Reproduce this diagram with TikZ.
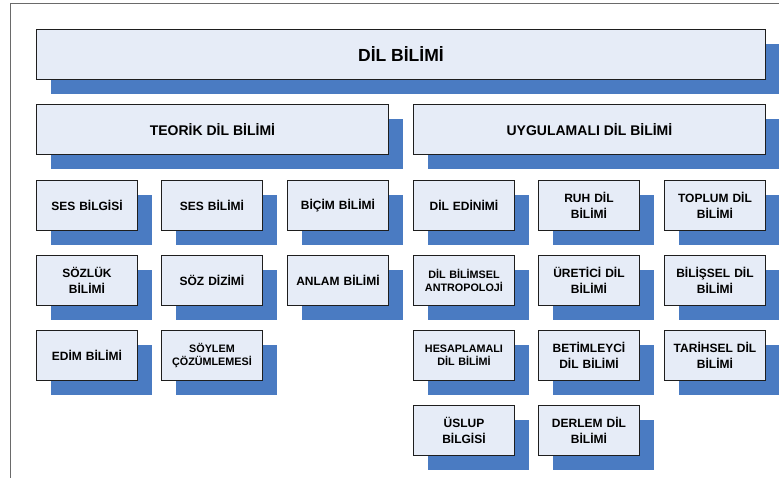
\documentclass[tikz,border=0pt]{standalone}
\usepackage{fontspec}
\setmainfont{Liberation Sans}
\usetikzlibrary{shadows}

\definecolor{cardfill}{HTML}{E6ECF7}
\definecolor{cardedge}{HTML}{1E1E1E}
\definecolor{shadowblue}{HTML}{4A7BC2}
\definecolor{framegray}{HTML}{6A6A6A}

\tikzset{
  card/.style={
    draw=cardedge, line width=0.9pt, fill=cardfill,
    anchor=north west, inner sep=2pt, align=center,
    drop shadow={shadow xshift=15pt, shadow yshift=-15pt,
                 fill=shadowblue, opacity=1}
  },
  titlecard/.style={card, minimum width=729pt, minimum height=50pt,
    font=\bfseries\fontsize{17.5}{20}\selectfont},
  branchcard/.style={card, minimum width=352pt, minimum height=50pt,
    font=\bfseries\fontsize{14}{17}\selectfont},
  leafcard/.style={card, minimum width=101pt, minimum height=50pt,
    text width=97pt, font=\bfseries\fontsize{12}{15.5}\selectfont},
  smallleaf/.style={leafcard, font=\bfseries\fontsize{10.8}{12.8}\selectfont},
  frameline/.style={draw=framegray, line width=1pt}
}

\begin{document}
\begin{tikzpicture}[x=1pt, y=-1pt]
  \useasboundingbox (0,0) rectangle (779,478);

  % page frame
  \coordinate (frameBL) at (10.5,478);
  \coordinate (frameTL) at (10.5,4);
  \coordinate (frameTR) at (779,4);
  \draw[frameline] (frameBL) -- (frameTL) -- (frameTR);

  % root
  \node[titlecard] (root) at (36,29) {DİL BİLİMİ};

  % two main branches
  \node[branchcard] (teorik) at (36,104) {TEORİK DİL BİLİMİ};
  \node[branchcard] (uygulamali) at (413,104) {UYGULAMALI DİL BİLİMİ};

  % theoretical linguistics
  \node[leafcard] (sesbilgisi) at (36,180) {SES BİLGİSİ};
  \node[leafcard] (sesbilimi) at (161,180) {SES BİLİMİ};
  \node[leafcard] (bicim) at (287,180) {BİÇİM BİLİMİ};
  \node[leafcard] (sozluk) at (36,255) {SÖZLÜK\\BİLİMİ};
  \node[leafcard] (sozdizimi) at (161,255) {SÖZ DİZİMİ};
  \node[leafcard] (anlam) at (287,255) {ANLAM BİLİMİ};
  \node[leafcard] (edim) at (36,330) {EDİM BİLİMİ};
  \node[smallleaf] (soylem) at (161,330) {SÖYLEM\\ÇÖZÜMLEMESİ};

  % applied linguistics
  \node[leafcard] (edinim) at (413,180) {DİL EDİNİMİ};
  \node[leafcard] (ruh) at (538,180) {RUH DİL\\BİLİMİ};
  \node[leafcard] (toplum) at (664,180) {TOPLUM DİL\\BİLİMİ};
  \node[smallleaf] (antropoloji) at (413,255) {DİL BİLİMSEL\\ANTROPOLOJİ};
  \node[leafcard] (uretici) at (538,255) {ÜRETİCİ DİL\\BİLİMİ};
  \node[leafcard] (bilissel) at (664,255) {BİLİŞSEL DİL\\BİLİMİ};
  \node[smallleaf] (hesaplamali) at (413,330) {HESAPLAMALI\\DİL BİLİMİ};
  \node[leafcard] (betimleyici) at (538,330) {BETİMLEYCİ\\DİL BİLİMİ};
  \node[leafcard] (tarihsel) at (664,330) {TARİHSEL DİL\\BİLİMİ};
  \node[leafcard] (uslup) at (413,405) {ÜSLUP\\BİLGİSİ};
  \node[leafcard] (derlem) at (538,405) {DERLEM DİL\\BİLİMİ};
\end{tikzpicture}
\end{document}
